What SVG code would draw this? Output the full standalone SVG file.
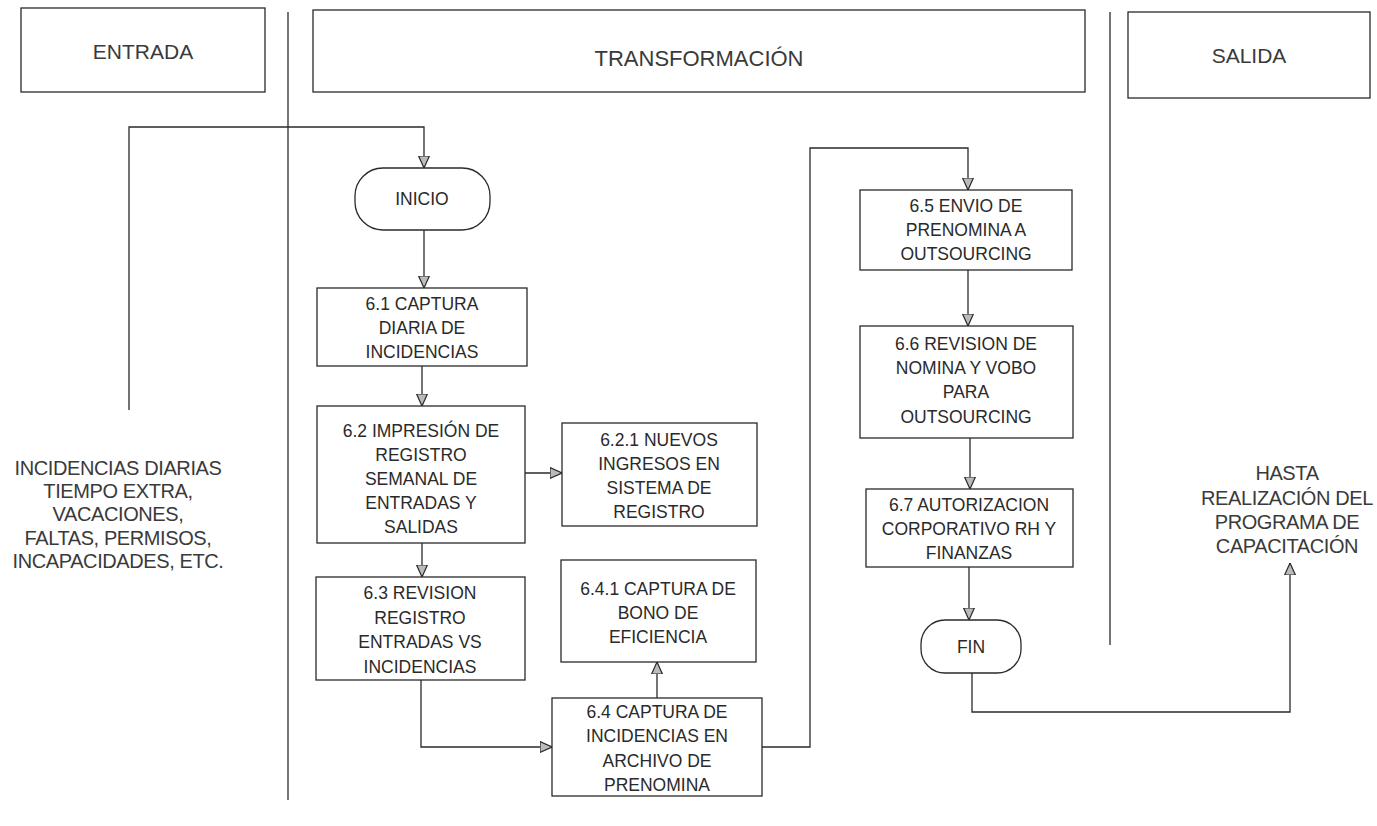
<svg xmlns="http://www.w3.org/2000/svg" width="1377" height="826" viewBox="0 0 1377 826">
<style>
.bx{fill:#fff;stroke:#2a2a2a;stroke-width:1.3}
.ln{fill:none;stroke:#2a2a2a;stroke-width:1.3}
.cn{fill:none;stroke:#2a2a2a;stroke-width:1.3;marker-end:url(#ah)}
.t{font-family:"Liberation Sans",Arial,sans-serif;font-size:17.5px;fill:#2a2a2a;text-anchor:middle}
.h{font-family:"Liberation Sans",Arial,sans-serif;font-size:21px;fill:#3a3a3a;text-anchor:middle}
.s{font-family:"Liberation Sans",Arial,sans-serif;font-size:20px;fill:#3a3a3a;text-anchor:middle;letter-spacing:-0.4px}
</style>
<defs>
<marker id="ah" markerUnits="userSpaceOnUse" markerWidth="12" markerHeight="12" viewBox="0 0 10 10" refX="10" refY="5" orient="auto">
<path d="M0,0.5 L10,5 L0,9.5 z" fill="#bbb" stroke="#2a2a2a" stroke-width="1"/>
</marker>
</defs>
<rect width="1377" height="826" fill="#fff"/>

<g id="lanes">
<line class="ln" x1="288" y1="12" x2="288" y2="800"/>
<line class="ln" x1="1110" y1="12" x2="1110" y2="645"/>
</g>

<g id="entrada">
<rect class="bx" x="21" y="8" width="244" height="84"/>
<text class="h" x="143" y="59">ENTRADA</text>
</g>
<g id="transformacion">
<rect class="bx" x="313" y="10" width="772" height="82"/>
<text class="h" x="699" y="66" style="font-size:22px">TRANSFORMACIÓN</text>
</g>
<g id="salida">
<rect class="bx" x="1128" y="12" width="242" height="86"/>
<text class="h" x="1249" y="63">SALIDA</text>
</g>

<g id="entrada-text">
<text class="s" x="118" y="475">INCIDENCIAS DIARIAS</text>
<text class="s" x="118" y="498">TIEMPO EXTRA,</text>
<text class="s" x="118" y="521">VACACIONES,</text>
<text class="s" x="118" y="545">FALTAS, PERMISOS,</text>
<text class="s" x="118" y="568">INCAPACIDADES, ETC.</text>
</g>

<g id="salida-text">
<text class="s" x="1287" y="480">HASTA</text>
<text class="s" x="1287" y="505">REALIZACIÓN DEL</text>
<text class="s" x="1287" y="529">PROGRAMA DE</text>
<text class="s" x="1287" y="553">CAPACITACIÓN</text>
</g>

<g id="inicio">
<rect class="bx" x="355" y="168" width="135" height="62" rx="28"/>
<text class="t" x="422" y="205">INICIO</text>
</g>

<g id="n61">
<rect class="bx" x="317" y="288" width="210" height="78"/>
<text class="t" x="422" y="310">6.1 CAPTURA</text>
<text class="t" x="422" y="334">DIARIA DE</text>
<text class="t" x="422" y="358">INCIDENCIAS</text>
</g>

<g id="n62">
<rect class="bx" x="317" y="406" width="208" height="137"/>
<text class="t" x="421" y="437">6.2 IMPRESIÓN DE</text>
<text class="t" x="421" y="461">REGISTRO</text>
<text class="t" x="421" y="485">SEMANAL DE</text>
<text class="t" x="421" y="509">ENTRADAS Y</text>
<text class="t" x="421" y="533">SALIDAS</text>
</g>

<g id="n621">
<rect class="bx" x="562" y="423" width="195" height="103"/>
<text class="t" x="659" y="446">6.2.1 NUEVOS</text>
<text class="t" x="659" y="470">INGRESOS EN</text>
<text class="t" x="659" y="494">SISTEMA DE</text>
<text class="t" x="659" y="518">REGISTRO</text>
</g>

<g id="n63">
<rect class="bx" x="316" y="577" width="209" height="103"/>
<text class="t" x="420" y="599">6.3 REVISION</text>
<text class="t" x="420" y="624">REGISTRO</text>
<text class="t" x="420" y="648">ENTRADAS VS</text>
<text class="t" x="420" y="673">INCIDENCIAS</text>
</g>

<g id="n641">
<rect class="bx" x="561" y="560" width="195" height="102"/>
<text class="t" x="658" y="595">6.4.1 CAPTURA DE</text>
<text class="t" x="658" y="619">BONO DE</text>
<text class="t" x="658" y="643">EFICIENCIA</text>
</g>

<g id="n64">
<rect class="bx" x="552" y="698" width="210" height="98"/>
<text class="t" x="657" y="718">6.4 CAPTURA DE</text>
<text class="t" x="657" y="742">INCIDENCIAS EN</text>
<text class="t" x="657" y="767">ARCHIVO DE</text>
<text class="t" x="657" y="791">PRENOMINA</text>
</g>

<g id="n65">
<rect class="bx" x="860" y="190" width="212" height="80"/>
<text class="t" x="966" y="212">6.5 ENVIO DE</text>
<text class="t" x="966" y="236">PRENOMINA A</text>
<text class="t" x="966" y="260">OUTSOURCING</text>
</g>

<g id="n66">
<rect class="bx" x="860" y="326" width="213" height="112"/>
<text class="t" x="966" y="350">6.6 REVISION DE</text>
<text class="t" x="966" y="374">NOMINA Y VOBO</text>
<text class="t" x="966" y="398">PARA</text>
<text class="t" x="966" y="423">OUTSOURCING</text>
</g>

<g id="n67">
<rect class="bx" x="866" y="489" width="207" height="78"/>
<text class="t" x="969" y="511">6.7 AUTORIZACION</text>
<text class="t" x="969" y="535">CORPORATIVO RH Y</text>
<text class="t" x="969" y="559">FINANZAS</text>
</g>

<g id="fin">
<rect class="bx" x="921" y="620" width="100" height="53" rx="24"/>
<text class="t" x="971" y="653">FIN</text>
</g>

<g id="connectors">
<polyline class="cn" points="129,410 129,127 424,127 424,168"/>
<line class="cn" x1="424" y1="230" x2="424" y2="288"/>
<line class="cn" x1="422" y1="366" x2="422" y2="406"/>
<line class="cn" x1="525" y1="473" x2="562" y2="473"/>
<line class="cn" x1="422" y1="543" x2="422" y2="577"/>
<polyline class="cn" points="421,680 421,747 552,747"/>
<line class="cn" x1="657" y1="698" x2="657" y2="662"/>
<polyline class="cn" points="762,747 810,747 810,148 968,148 968,190"/>
<line class="cn" x1="968" y1="270" x2="968" y2="326"/>
<line class="cn" x1="970" y1="438" x2="970" y2="489"/>
<line class="cn" x1="969" y1="567" x2="969" y2="620"/>
<polyline class="cn" points="972,673 972,712 1290,712 1290,563"/>
</g>
</svg>
